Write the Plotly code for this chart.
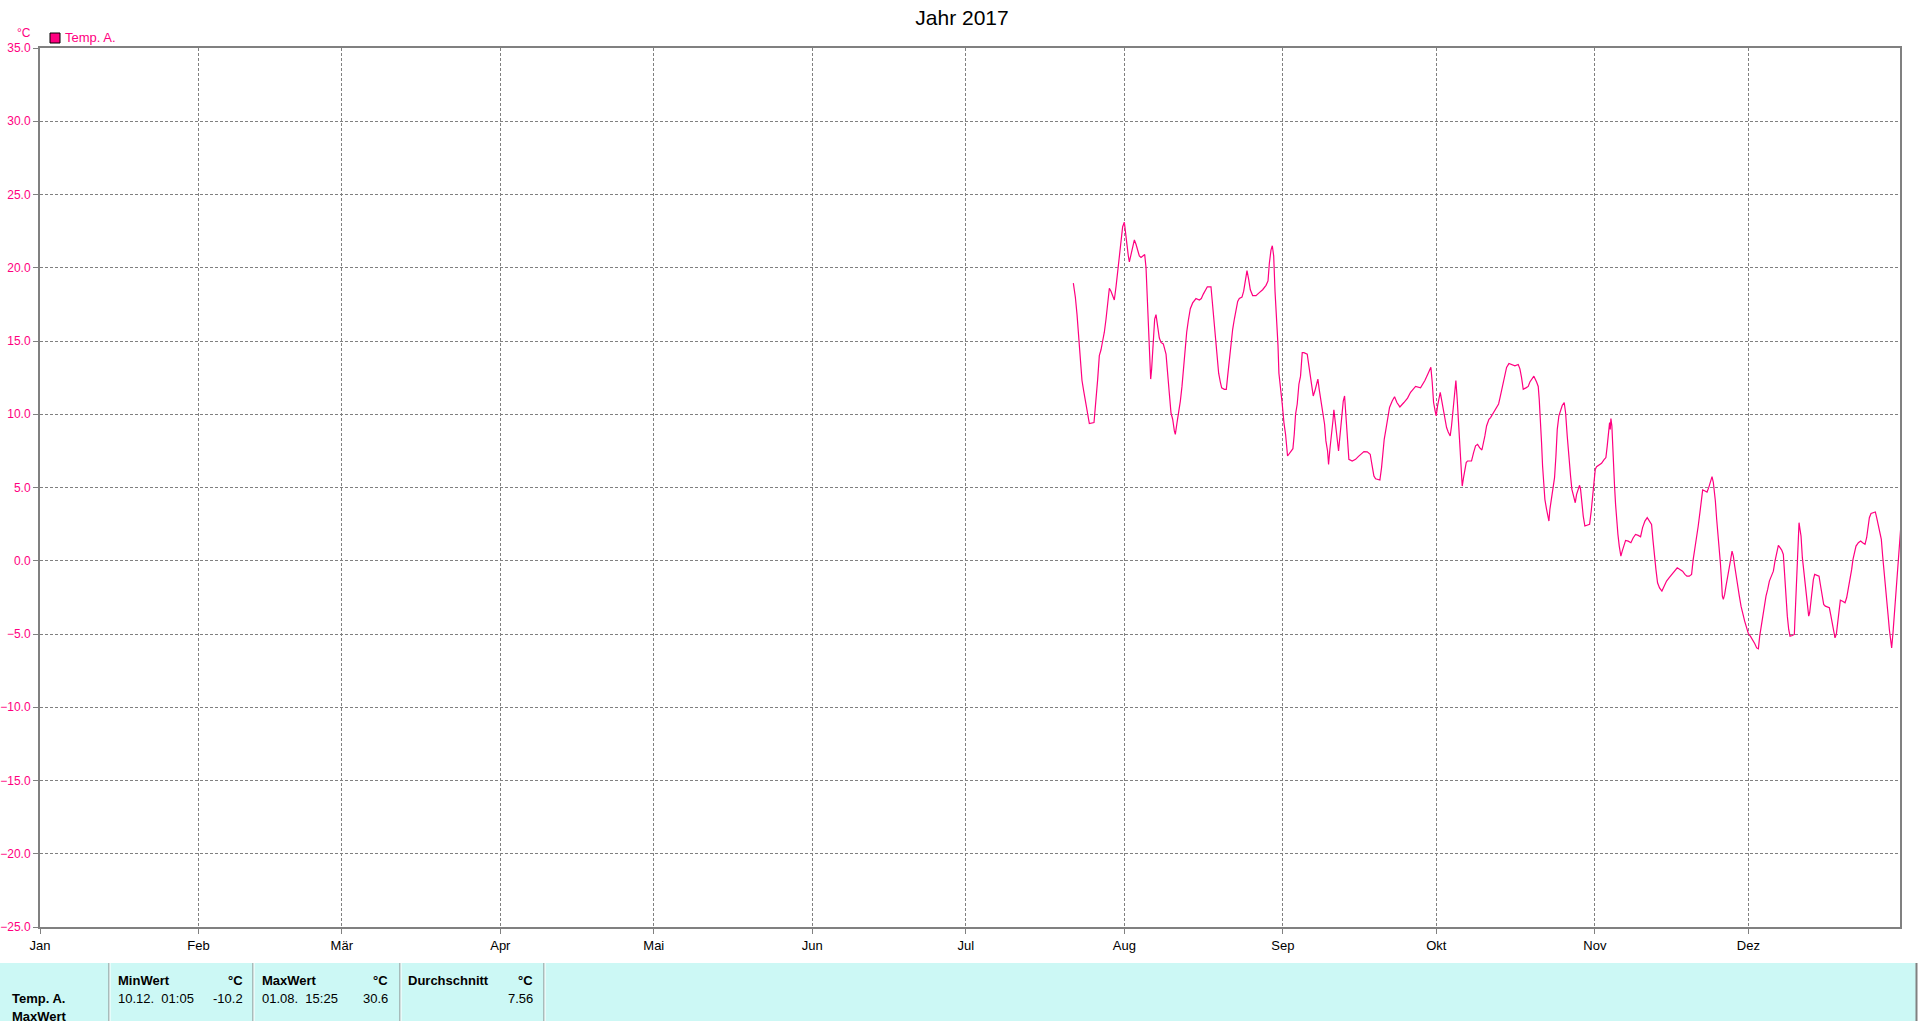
import pandas as pd
import plotly.graph_objects as go

# ---------------- data ----------------
# day-of-year (0 = 1 Jan 2017, fractional) and temperature in °C
doy_jul22_aug30 = [202.03, 202.42, 202.75, 203.07, 203.40, 203.72, 204.05, 204.38, 204.77, 205.16,
                   206.07, 206.46, 206.79, 207.11, 207.44, 207.76, 208.09, 208.42, 208.74, 209.07,
                   209.39, 209.72, 210.04, 210.37, 210.70, 211.02, 211.35, 211.67, 212.00, 212.20,
                   212.46, 212.78, 212.98, 213.30, 213.63, 213.96, 214.28, 214.61, 214.93, 215.26,
                   215.58, 215.98, 216.24, 216.43, 216.69, 216.89, 217.15, 217.34, 217.67, 217.93,
                   218.19, 218.52, 218.84, 219.17, 219.62, 220.15, 220.47, 220.80, 221.12, 221.45,
                   221.78, 221.97, 222.30, 222.62, 222.95, 223.27, 223.60, 223.93, 224.19, 224.51,
                   224.90, 225.36, 226.01, 226.66, 227.05, 227.44, 227.84, 228.23, 228.94, 229.27,
                   229.53, 229.79, 230.12, 230.44, 230.77, 231.03, 231.55, 231.94, 232.20, 232.53,
                   232.85, 233.18, 233.51, 233.83, 234.16, 234.48, 235.00, 235.33, 235.66, 235.98,
                   236.31, 236.63, 237.09, 237.74, 238.39, 239.04, 239.70, 240.09, 240.35, 240.67,
                   240.93, 241.20, 241.46, 241.72, 242.04]
temp_jul22_aug30 = [18.95, 18.0, 16.8, 15.5, 13.9, 12.3, 11.6, 10.9, 10.3, 9.36,
                    9.43, 10.8, 12.4, 14.0, 14.4, 15.0, 15.6, 16.5, 17.6, 18.6,
                    18.4, 18.1, 17.8, 18.7, 19.7, 20.8, 22.0, 22.8, 23.1, 22.4,
                    21.7, 20.8, 20.4, 20.9, 21.5, 21.9, 21.6, 21.2, 20.8, 20.7,
                    20.8, 20.9, 20.0, 18.3, 16.6, 14.9, 12.4, 13.1, 15.4, 16.5,
                    16.8, 16.0, 15.2, 14.9, 14.8, 14.1, 12.4, 11.4, 10.1, 9.66,
                    8.86, 8.63, 9.43, 10.1, 10.9, 11.9, 13.3, 14.6, 15.6, 16.4,
                    17.2, 17.6, 17.9, 17.8, 17.9, 18.2, 18.5, 18.7, 18.7, 17.3,
                    16.2, 15.1, 13.8, 12.8, 12.2, 11.8, 11.7, 11.7, 12.6, 13.8,
                    14.9, 15.8, 16.5, 17.2, 17.7, 17.9, 18.0, 18.4, 19.1, 19.8,
                    19.2, 18.5, 18.1, 18.1, 18.3, 18.5, 18.8, 19.1, 20.3, 21.2,
                    21.5, 20.8, 18.4, 16.9, 14.7]

doy_aug30_oct11 = [242.22, 242.54, 242.87, 243.20, 243.52, 243.91, 244.17, 244.56, 244.96, 245.22,
                   245.48, 245.80, 246.13, 246.45, 246.78, 247.11, 247.76, 248.08, 248.41, 248.73,
                   248.93, 249.26, 249.52, 249.84, 250.10, 250.43, 250.76, 251.15, 251.41, 251.73,
                   251.93, 252.19, 252.51, 252.78, 252.97, 253.30, 253.62, 253.88, 254.14, 254.47,
                   254.80, 255.06, 255.32, 255.58, 255.90, 256.55, 257.21, 257.73, 258.25, 258.84,
                   259.49, 260.07, 260.40, 260.79, 261.12, 261.96, 262.29, 262.55, 262.81, 263.14,
                   263.46, 263.85, 264.37, 264.83, 265.29, 265.87, 266.66, 267.37, 267.96, 268.94,
                   269.91, 270.76, 271.41, 271.93, 272.19, 272.46, 272.78, 272.98, 273.24, 273.50,
                   273.76, 274.02, 274.35, 274.67, 275.00, 275.32, 275.71, 275.97, 276.30, 276.56,
                   276.82, 277.08, 277.34, 277.60, 277.86, 278.06, 278.32, 278.58, 278.84, 279.10,
                   279.88, 280.28, 280.67, 281.06, 281.45, 281.91, 282.24, 282.49, 282.82, 283.28,
                   283.60]
temp_aug30_oct11 = [12.8, 11.5, 10.7, 9.43, 8.63, 7.15, 7.27, 7.49, 7.65, 8.63,
                    10.0, 10.7, 12.05, 12.6, 14.2, 14.2, 14.1, 13.3, 12.4, 11.6,
                    11.25, 11.6, 12.05, 12.4, 11.7, 10.8, 10.2, 9.32, 8.18, 7.49,
                    6.58, 7.61, 8.52, 9.54, 10.3, 9.43, 8.29, 7.49, 8.63, 10.0,
                    10.9, 11.25, 10.0, 8.41, 6.92, 6.81, 6.92, 7.11, 7.27, 7.45,
                    7.43, 7.27, 6.58, 5.79, 5.60, 5.51, 6.36, 7.38, 8.29, 8.97,
                    9.66, 10.46, 10.91, 11.2, 10.8, 10.5, 10.8, 11.1, 11.5, 11.9,
                    11.8, 12.3, 12.8, 13.2, 12.2, 10.8, 10.2, 9.89, 10.57, 11.1,
                    11.5, 11.0, 10.3, 9.66, 9.09, 8.79, 8.52, 9.2, 10.46, 11.7,
                    12.3, 11.0, 9.2, 7.61, 6.01, 5.1, 5.67, 6.24, 6.70, 6.81,
                    6.81, 7.38, 7.84, 7.95, 7.72, 7.56, 8.06, 8.52, 9.2, 9.66,
                    9.77]

doy_oct11_nov21 = [284.12, 284.78, 285.17, 285.43, 285.75, 286.08, 286.40, 286.73, 287.19, 287.71,
                   288.36, 289.01, 289.34, 289.66, 289.99, 290.51, 290.96, 291.29, 291.68, 292.07,
                   292.60, 292.92, 293.12, 293.38, 293.57, 293.77, 293.96, 294.22, 294.55, 294.81,
                   295.01, 295.20, 295.53, 295.85, 296.11, 296.38, 296.64, 296.96, 297.29, 297.61,
                   298.00, 298.27, 298.59, 298.92, 299.24, 299.50, 299.89, 300.16, 300.42, 300.74,
                   301.00, 301.20, 301.46, 301.72, 302.04, 302.50, 302.96, 303.28, 303.54, 303.80,
                   304.07, 304.33, 304.78, 305.30, 305.76, 306.15, 306.41, 306.67, 306.87, 307.00,
                   307.13, 307.32, 307.45, 307.65, 307.84, 308.04, 308.24, 308.50, 308.76, 309.08,
                   309.34, 309.67, 310.00, 310.52, 311.04, 311.49, 311.95, 312.47, 312.93, 313.32,
                   313.78, 314.23, 314.69, 315.08, 315.34, 315.60, 315.93, 316.25, 316.64, 317.10,
                   317.55, 318.01, 318.53, 319.12, 319.64, 320.10, 320.62, 321.14, 321.60, 321.99,
                   322.44, 322.90, 323.22, 323.55, 323.88, 324.20, 324.53, 324.79]
temp_oct11_nov21 = [10.1, 10.46, 10.7, 11.1, 11.6, 12.2, 12.7, 13.2, 13.46, 13.4,
                    13.3, 13.4, 13.1, 12.5, 11.7, 11.8, 11.9, 12.2, 12.4, 12.6,
                    12.2, 11.9, 11.0, 9.54, 8.06, 6.47, 5.10, 4.19, 3.51, 3.05,
                    2.71, 3.51, 4.42, 5.10, 5.67, 7.15, 8.97, 9.89, 10.3, 10.6,
                    10.8, 10.1, 8.52, 6.92, 5.79, 4.87, 4.19, 3.96, 4.53, 4.87,
                    5.15, 4.87, 3.85, 3.05, 2.37, 2.41, 2.48, 3.39, 4.42, 5.33,
                    6.24, 6.42, 6.51, 6.65, 6.88, 7.04, 7.84, 8.86, 9.43, 8.97,
                    9.70, 9.2, 7.84, 6.47, 5.10, 3.85, 2.82, 1.80, 1.00, 0.32,
                    0.66, 1.12, 1.39, 1.34, 1.23, 1.57, 1.80, 1.73, 1.64, 2.26,
                    2.71, 2.94, 2.71, 2.48, 1.46, 0.32, -0.59, -1.50, -1.85, -2.07,
                    -1.73, -1.39, -1.16, -0.93, -0.66, -0.48, -0.59, -0.71, -0.93, -1.05,
                    -1.05, -0.93, 0.09, 0.77, 1.46, 2.37, 3.28, 3.96]

doy_nov21_dec30 = [325.07, 325.53, 325.92, 326.25, 326.57, 326.90, 327.16, 327.35, 327.55, 327.81,
                   328.07, 328.33, 328.53, 328.72, 328.92, 329.11, 329.37, 329.63, 329.96, 330.29,
                   330.55, 330.81, 331.07, 331.33, 331.59, 331.91, 332.24, 332.57, 332.89, 333.28,
                   333.67, 334.00, 334.39, 334.85, 335.24, 335.63, 335.96, 336.22, 336.54, 336.80,
                   337.13, 337.45, 337.78, 338.11, 338.50, 338.89, 339.21, 339.54, 339.87, 340.19,
                   340.52, 340.84, 341.10, 341.36, 341.62, 341.89, 342.15, 342.60, 342.99, 343.25,
                   343.51, 343.71, 343.91, 344.10, 344.30, 344.56, 344.82, 345.08, 345.34, 345.60,
                   345.80, 345.99, 346.19, 346.45, 346.71, 346.97, 347.36, 347.82, 348.08, 348.40,
                   348.73, 349.05, 349.44, 349.84, 350.10, 350.36, 350.62, 350.94, 351.20, 351.47,
                   351.73, 351.99, 352.44, 352.90, 353.22, 353.55, 353.88, 354.20, 354.46, 354.79,
                   355.05, 355.51, 355.96, 356.35, 356.81, 357.13, 357.40, 357.66, 357.98, 358.44,
                   358.83, 359.09, 359.42, 359.74, 360.00, 360.26, 360.52, 360.78, 361.04, 361.31,
                   361.57, 361.83, 362.02, 362.28, 362.54, 362.80, 363.06, 363.33, 363.59, 363.78]
temp_nov21_dec30 = [4.83, 4.76, 4.69, 4.99, 5.44, 5.74, 5.33, 4.76, 4.08, 2.82,
                    1.91, 1.00, -0.14, -1.16, -2.41, -2.64, -2.30, -1.73, -1.16, -0.48,
                    0.09, 0.66, 0.32, -0.36, -1.05, -1.73, -2.41, -3.10, -3.60, -4.12,
                    -4.58, -4.97, -5.15, -5.38, -5.65, -5.95, -6.01, -5.15, -4.46, -3.67,
                    -2.87, -2.41, -1.96, -1.39, -1.05, -0.71, -0.02, 0.66, 1.05, 0.89,
                    0.73, 0.43, -1.05, -1.96, -3.78, -4.69, -5.15, -5.10, -5.03, -2.87,
                    -0.14, 1.23, 2.60, 2.14, 1.69, 0.21, -0.59, -1.16, -2.19, -3.10,
                    -3.78, -3.55, -2.87, -1.96, -1.28, -0.93, -0.98, -1.05, -1.62, -2.30,
                    -2.98, -3.10, -3.14, -3.21, -3.67, -4.24, -4.81, -5.26, -5.03, -4.12,
                    -3.33, -2.69, -2.76, -2.87, -2.53, -1.96, -1.28, -0.59, 0.09, 0.66,
                    1.00, 1.23, 1.34, 1.23, 1.12, 1.57, 2.14, 2.94, 3.23, 3.28,
                    3.33, 2.94, 2.48, 2.03, 1.46, 0.32, -0.82, -1.96, -2.87, -3.67,
                    -4.69, -5.60, -5.95, -4.92, -3.67, -2.53, -0.93, 0.09, 1.23, 2.19]

month_labels = ["Jan", "Feb", "Mär", "Apr", "Mai", "Jun", "Jul", "Aug", "Sep", "Okt", "Nov", "Dez"]
y_tick_values = [-25, -20, -15, -10, -5, 0, 5, 10, 15, 20, 25, 30, 35]

title_text = "Jahr 2017"
series_name = "Temp. A."
unit_label = "°C"
stat_headers = ["MinWert", "MaxWert", "Durchschnitt"]
min_when, min_value = "10.12.  01:05", "-10.2"
max_when, max_value = "01.08.  15:25", "30.6"
avg_value = "7.56"

# ---------------- build ----------------
year_start = pd.Timestamp("2017-01-01")
doy_all = doy_jul22_aug30 + doy_aug30_oct11 + doy_oct11_nov21 + doy_nov21_dec30
temp_all = temp_jul22_aug30 + temp_aug30_oct11 + temp_oct11_nov21 + temp_nov21_dec30
x_times = year_start + pd.to_timedelta(doy_all, unit="D")
month_starts = [pd.Timestamp(2017, m, 1) for m in range(1, 13)]

MAG = "#FF0080"
GRAY = "#808080"
FONT = "Liberation Sans, Arial, sans-serif"
W_FIG, H_FIG = 1920, 1021
L, R, T, B = 40, 1900, 48, 927


def px_x(p):
    return (p - L) / (R - L)


def px_y(p):
    return (B - p) / (B - T)


fig = go.Figure()
fig.add_trace(go.Scatter(x=x_times, y=temp_all, mode="lines", name=series_name,
                         line=dict(color=MAG, width=1.2), showlegend=False,
                         hovertemplate="%{x|%d.%m. %H:%M}: %{y:.1f} °C<extra></extra>"))

shapes = []
annotations = []

# legend marker and text
shapes.append(dict(type="rect", xref="paper", yref="paper",
                   x0=px_x(50), x1=px_x(60), y0=px_y(43), y1=px_y(33),
                   fillcolor=MAG, line=dict(color="black", width=1)))
annotations.append(dict(text=series_name, xref="paper", yref="paper", x=px_x(63), y=px_y(38),
                        xanchor="left", yanchor="middle", showarrow=False,
                        font=dict(family=FONT, size=13, color=MAG)))
annotations.append(dict(text=unit_label, xref="paper", yref="paper", x=px_x(24), y=px_y(33),
                        xanchor="center", yanchor="middle", showarrow=False,
                        font=dict(family=FONT, size=12, color=MAG)))

# statistics table at the bottom
TOP_T = 963
shapes.append(dict(type="rect", xref="paper", yref="paper",
                   x0=px_x(0), x1=px_x(1916), y0=px_y(1030), y1=px_y(TOP_T),
                   fillcolor="#CCF8F5", line=dict(width=0), layer="below"))
shapes.append(dict(type="line", xref="paper", yref="paper",
                   x0=px_x(1916.5), x1=px_x(1916.5), y0=px_y(1030), y1=px_y(TOP_T),
                   line=dict(color=GRAY, width=2)))
for sx in [109, 253, 400, 544]:
    shapes.append(dict(type="line", xref="paper", yref="paper",
                       x0=px_x(sx), x1=px_x(sx), y0=px_y(1030), y1=px_y(TOP_T),
                       line=dict(color=GRAY, width=1)))
    shapes.append(dict(type="line", xref="paper", yref="paper",
                       x0=px_x(sx + 1), x1=px_x(sx + 1), y0=px_y(1030), y1=px_y(TOP_T),
                       line=dict(color="white", width=1)))


def table_text(text, x, y, anchor="left", bold=False):
    annotations.append(dict(text=f"<b>{text}</b>" if bold else text, xref="paper", yref="paper",
                            x=px_x(x), y=px_y(y), xanchor=anchor, yanchor="middle",
                            showarrow=False, font=dict(family=FONT, size=13, color="black")))


ROW_H, ROW_1, ROW_2 = 980, 999, 1016
table_text(series_name, 10, ROW_1, bold=True)
table_text(stat_headers[1], 10, ROW_2, bold=True)
table_text(stat_headers[0], 116, ROW_H, bold=True)
table_text(unit_label, 245, ROW_H, "right", bold=True)
table_text(min_when, 116, ROW_1)
table_text(min_value, 245, ROW_1, "right")
table_text(stat_headers[1], 260, ROW_H, bold=True)
table_text(unit_label, 390, ROW_H, "right", bold=True)
table_text(max_when, 260, ROW_1)
table_text(max_value, 390, ROW_1, "right")
table_text(stat_headers[2], 406, ROW_H, bold=True)
table_text(unit_label, 535, ROW_H, "right", bold=True)
table_text(avg_value, 535, ROW_1, "right")

fig.update_layout(
    width=W_FIG, height=H_FIG,
    margin=dict(l=L, r=W_FIG - R, t=T, b=H_FIG - B, pad=0, autoexpand=False),
    paper_bgcolor="white", plot_bgcolor="white",
    font=dict(family=FONT, size=13, color="black"),
    title=dict(text=title_text, x=962 / W_FIG, xref="container", xanchor="center",
               y=1 - 18 / H_FIG, yref="container", yanchor="middle",
               font=dict(family=FONT, size=21, color="black")),
    shapes=shapes, annotations=annotations, showlegend=False,
    hovermode="closest",
)
fig.update_xaxes(
    type="date", range=[year_start, year_start + pd.Timedelta(days=363.65)],
    tickmode="array", tickvals=month_starts, ticktext=month_labels,
    showgrid=True, gridcolor=GRAY, gridwidth=1, griddash="3px,2px",
    showline=True, linecolor=GRAY, linewidth=2, mirror=True,
    ticks="outside", ticklen=5, tickcolor=GRAY, tickwidth=1,
    tickfont=dict(family=FONT, size=13, color="black"), zeroline=False,
    automargin=False,
)
fig.update_yaxes(
    range=[-25, 35], tickmode="array", tickvals=y_tick_values, tickformat=".1f",
    showgrid=True, gridcolor=GRAY, gridwidth=1, griddash="3px,2px",
    showline=True, linecolor=GRAY, linewidth=2, mirror=True,
    ticks="outside", ticklen=5, tickcolor=GRAY, tickwidth=1,
    tickfont=dict(family=FONT, size=12, color=MAG), zeroline=False,
    automargin=False,
)

fig.write_html("out.html", config={"displayModeBar": False},
               post_script="document.body.style.margin='0';document.body.style.overflow='hidden';")
